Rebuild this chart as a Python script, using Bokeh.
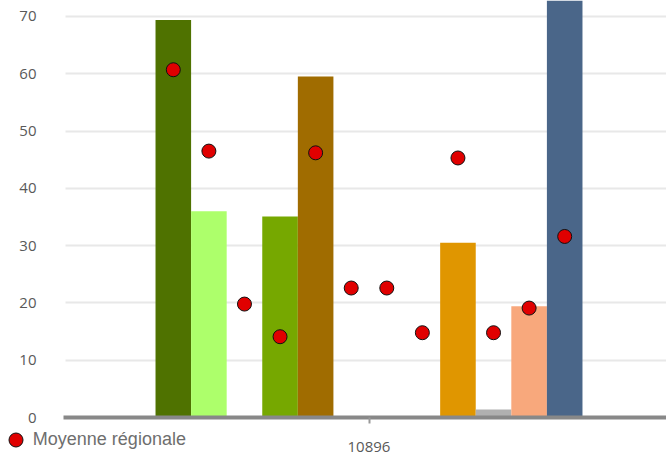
from bokeh.plotting import figure
from bokeh.models import ColumnDataSource, Range1d, FixedTicker, Legend, LegendItem
from bokeh.embed import file_html
from bokeh.resources import INLINE
import math

# ---- data ----
categories = ["10896"]
series_colors = ["#4f7200", "#adff6b", "#c8e6a0", "#76a800", "#a06c00", "#c9a45c",
                 "#d9c48a", "#f0c060", "#e09600", "#b0b0b0", "#f8a87c", "#4a6689"]
bar_values = [69.4, 36.0, float("nan"), 35.1, 59.5, float("nan"),
              float("nan"), float("nan"), 30.5, 1.4, 19.4, 80.0]
regional_mean = [60.7, 46.5, 19.8, 14.1, 46.2, 22.6,
                 22.6, 14.8, 45.3, 14.8, 19.1, 31.6]
y_ticks = [0, 10, 20, 30, 40, 50, 60, 70]
legend_label = "Moyenne régionale"

n = len(bar_values)
cat_index = 0
offsets = [cat_index + (i - (n - 1) / 2) for i in range(n)]

def present(v):
    return not (isinstance(v, float) and math.isnan(v))

bars = ColumnDataSource(dict(x=offsets, top=[v if present(v) else 0 for v in bar_values],
                             color=series_colors,
                             alpha=[1 if present(v) else 0 for v in bar_values]))
dots = ColumnDataSource(dict(x=offsets, y=regional_mean))

# layout (screen geometry)
W, H = 666, 460
slot_px = 35.58          # width of one bar slot in px
y_px = 5.729             # px per value unit
center_px = 368.5        # category centre on screen
zero_px = 417            # y=0 on screen
plot_left_px = 65        # left edge of the plotting area

x_start = -center_px / slot_px
x_end = (W - center_px) / slot_px
y_start = -(H - zero_px) / y_px
y_end = zero_px / y_px
x_plot_left = (plot_left_px - center_px) / slot_px

p = figure(width=W, height=H, output_backend="svg", toolbar_location=None,
           x_range=Range1d(x_start, x_end), y_range=Range1d(y_start, y_end),
           min_border=0)
p.outline_line_color = None

p.vbar(x="x", top="top", bottom=0, width=1.0, source=bars, fill_color="color",
       fill_alpha="alpha", line_color=None)
r = p.scatter(x="x", y="y", size=14, source=dots, fill_color="#e00000",
              line_color="#111111", line_width=1)

# x axis drawn at y = 0
xa = p.xaxis[0]
xa.fixed_location = 0
xa.bounds = (x_plot_left - 0.06, x_end)
xa.ticker = FixedTicker(ticks=[cat_index])
xa.major_label_overrides = {cat_index: categories[0]}
xa.axis_line_color = "#888888"
xa.axis_line_width = 4
xa.major_tick_line_color = "#999999"
xa.major_tick_line_width = 2
xa.major_tick_out = 6
xa.major_tick_in = 0
xa.minor_tick_line_color = None
xa.major_label_standoff = 18
xa.major_label_text_font = "Open Sans"
xa.major_label_text_font_size = "15px"
xa.major_label_text_color = "#595959"

ya = p.yaxis[0]
ya.fixed_location = x_plot_left
ya.ticker = FixedTicker(ticks=y_ticks)
ya.axis_line_color = None
ya.major_tick_line_color = None
ya.minor_tick_line_color = None
ya.major_tick_out = 0
ya.major_tick_in = 0
ya.major_label_standoff = 29
ya.major_label_text_font = "Open Sans"
ya.major_label_text_font_size = "15px"
ya.major_label_text_color = "#595959"

p.xgrid.grid_line_color = None
p.ygrid.grid_line_color = "#e8e8e8"
p.ygrid.grid_line_width = 2
p.ygrid.cross_bounds = (x_plot_left, x_end)

legend = Legend(items=[LegendItem(label=legend_label, renderers=[r])],
                location=(-2.2, 3), border_line_color=None,
                background_fill_alpha=0, padding=0, margin=0, spacing=0,
                glyph_width=35, glyph_height=35, label_standoff=-3,
                label_text_font="Liberation Sans", label_text_font_size="18px",
                label_text_color="#6e6e6e")
p.add_layout(legend, "center")

open("out.html", "w").write(file_html(p, INLINE))
